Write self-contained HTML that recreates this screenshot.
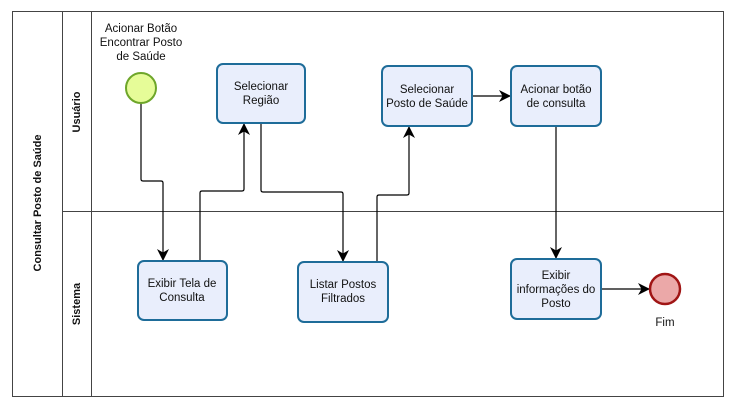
<!DOCTYPE html>
<html><head><style>
body{margin:0;background:#fff;}
text{font-family:"Liberation Sans","DejaVu Sans",sans-serif;font-size:11.5px;fill:#111;}
</style></head><body>
<svg width="737" height="409" xmlns="http://www.w3.org/2000/svg">
<defs><marker id="a" markerWidth="12" markerHeight="12" refX="11" refY="6" orient="auto" markerUnits="userSpaceOnUse"><path d="M0,0 L12,6 L0,12 L3.5,6 z" fill="#000"/></marker></defs>
<rect x="12.5" y="11.5" width="711" height="385" fill="#fff" stroke="#444"/>
<line x1="62.5" y1="11" x2="62.5" y2="396" stroke="#444"/>
<line x1="91.5" y1="11" x2="91.5" y2="396" stroke="#444"/>
<line x1="62" y1="211.5" x2="723" y2="211.5" stroke="#444"/>
<text transform="translate(41,203) rotate(-90)" text-anchor="middle" font-weight="bold" style="font-size:11px">Consultar Posto de Saúde</text>
<text transform="translate(80,112) rotate(-90)" text-anchor="middle" font-weight="bold" style="font-size:11px">Usuário</text>
<text transform="translate(80,304) rotate(-90)" text-anchor="middle" font-weight="bold" style="font-size:11px">Sistema</text>
<g fill="none" stroke="#000" stroke-width="1.2">
<path d="M141,103 V179 Q141,181 143,181 H161 Q163,181 163,183 V260" marker-end="url(#a)"/>
<path d="M200,261 V193 Q200,191 202,191 H242 Q244,191 244,189 V124" marker-end="url(#a)"/>
<path d="M261,123 V190 Q261,192 263,192 H341 Q343,192 343,194 V261" marker-end="url(#a)"/>
<path d="M377,262 V197 Q377,195 379,195 H407 Q409,195 409,193 V127" marker-end="url(#a)"/>
<path d="M472,96 H510" marker-end="url(#a)"/>
<path d="M556,126 V258" marker-end="url(#a)"/>
<path d="M601,289 H649" marker-end="url(#a)"/>
</g>
<g fill="#e9eefc" stroke="#1e6c99" stroke-width="2">
<rect x="217" y="64" width="88" height="59" rx="6"/>
<rect x="382" y="66" width="90" height="60" rx="6"/>
<rect x="511" y="66" width="90" height="60" rx="6"/>
<rect x="138" y="261" width="89" height="59" rx="6"/>
<rect x="298" y="262" width="90" height="60" rx="6"/>
<rect x="511" y="259" width="90" height="60" rx="6"/>
</g>
<circle cx="141" cy="88" r="15" fill="#e6fc98" stroke="#6ea62a" stroke-width="2"/>
<circle cx="665" cy="289" r="15" fill="#eba8a8" stroke="#a01515" stroke-width="2.5"/>
<g text-anchor="middle">
<text x="141" y="32">Acionar Botão</text><text x="141" y="46">Encontrar Posto</text><text x="141" y="60">de Saúde</text>
<text x="261" y="90">Selecionar</text><text x="261" y="104">Região</text>
<text x="427" y="93">Selecionar</text><text x="427" y="107">Posto de Saúde</text>
<text x="556" y="93">Acionar botão</text><text x="556" y="107">de consulta</text>
<text x="182" y="287">Exibir Tela de</text><text x="182" y="301">Consulta</text>
<text x="343" y="288">Listar Postos</text><text x="343" y="302">Filtrados</text>
<text x="556" y="279">Exibir</text><text x="556" y="293">informações do</text><text x="556" y="307">Posto</text>
<text x="665" y="326">Fim</text>
</g>
</svg>
</body></html>
